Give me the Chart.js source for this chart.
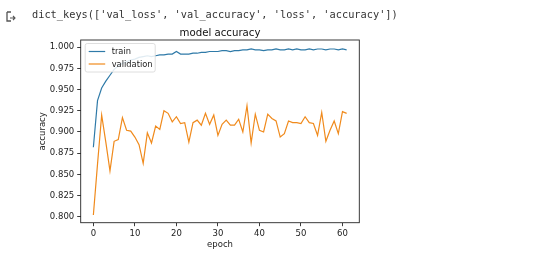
<!DOCTYPE html>
<html>
<head>
<meta charset="utf-8">
<script src="https://cdn.jsdelivr.net/npm/chart.js@4.4.1/dist/chart.umd.min.js"></script>
<style>
  body { margin: 0; background: #fff; }
  #wrap { position: relative; width: 540px; height: 258px; }
  #chart { position: absolute; left: 0; top: 0; }
  #out {
    position: absolute; left: 32px; top: 8px;
    font: 10.3px "DejaVu Sans Mono", monospace; color: #333; white-space: pre;
  }
  #icon { position: absolute; left: 6px; top: 11px; }
</style>
</head>
<body>
<div id="wrap">
  <canvas id="chart" width="540" height="258"></canvas>
  <svg id="icon" width="10" height="11" viewBox="0 0 10 11">
    <path d="M1 1 H5 M1 1 V10 H5" fill="none" stroke="#555" stroke-width="1.3"/>
    <path d="M4 7 H9 M7 5 L9 7 L7 9" fill="none" stroke="#555" stroke-width="1.1"/>
  </svg>
  <div id="out">dict_keys(['val_loss', 'val_accuracy', 'loss', 'accuracy'])</div>
</div>
<script>
// Training history (62 epochs)
const epochs = [0, 1, 2, 3, 4, 5, 6, 7, 8, 9, 10, 11, 12, 13, 14, 15, 16, 17, 18, 19, 20,
    21, 22, 23, 24, 25, 26, 27, 28, 29, 30, 31, 32, 33, 34, 35, 36, 37, 38, 39, 40,
    41, 42, 43, 44, 45, 46, 47, 48, 49, 50, 51, 52, 53, 54, 55, 56, 57, 58, 59, 60, 61];

const trainAcc = [0.882, 0.937, 0.952, 0.960, 0.967, 0.974, 0.978, 0.981, 0.983, 0.985,
    0.986, 0.988, 0.989, 0.990, 0.989, 0.990, 0.991, 0.991, 0.992, 0.992,
    0.995, 0.992, 0.992, 0.992, 0.993, 0.993, 0.994, 0.994, 0.995, 0.995,
    0.995, 0.996, 0.996, 0.995, 0.996, 0.996, 0.997, 0.997, 0.998, 0.997,
    0.997, 0.996, 0.997, 0.997, 0.998, 0.997, 0.997, 0.998, 0.997, 0.998,
    0.997, 0.997, 0.998, 0.997, 0.998, 0.998, 0.997, 0.998, 0.998, 0.997,
    0.998, 0.997];

const valAcc = [0.802, 0.862, 0.920, 0.888, 0.854, 0.889, 0.891, 0.917, 0.902, 0.901,
    0.894, 0.885, 0.863, 0.899, 0.887, 0.907, 0.903, 0.925, 0.922, 0.912,
    0.918, 0.910, 0.911, 0.888, 0.911, 0.914, 0.908, 0.922, 0.909, 0.920,
    0.896, 0.909, 0.914, 0.908, 0.908, 0.915, 0.900, 0.931, 0.887, 0.921,
    0.902, 0.900, 0.921, 0.916, 0.913, 0.894, 0.898, 0.913, 0.911, 0.911,
    0.910, 0.918, 0.911, 0.910, 0.896, 0.923, 0.889, 0.902, 0.913, 0.898,
    0.924, 0.922];

const xTicks = [0, 10, 20, 30, 40, 50, 60];
const yTicks = [0.800, 0.825, 0.850, 0.875, 0.900, 0.925, 0.950, 0.975, 1.000];

const TITLE = 'model accuracy';
const FONT = '"DejaVu Sans", sans-serif';
const AXIS_COLOR = '#262626';

function toPoints(ys) {
    return epochs.map((e, i) => ({ x: e, y: ys[i] }));
}

// frame, title and legend box drawn like matplotlib
const mplDecor = {
    id: 'mplDecor',
    afterDraw(chart) {
        const { ctx, chartArea: a } = chart;
        ctx.save();

        // axes frame (all 4 spines)
        ctx.strokeStyle = AXIS_COLOR;
        ctx.lineWidth = 0.9;
        ctx.strokeRect(a.left, a.top, a.right - a.left, a.bottom - a.top);

        // title
        ctx.fillStyle = '#111';
        ctx.font = '10.2px ' + FONT;
        ctx.textAlign = 'center';
        ctx.textBaseline = 'alphabetic';
        ctx.fillText(TITLE, (a.left + a.right) / 2, a.top - 4);

        // legend in upper left
        const bx = a.left + 4.5, by = a.top + 3.5, bw = 70, bh = 28.5;
        ctx.beginPath();
        ctx.roundRect(bx, by, bw, bh, 2);
        ctx.fillStyle = 'rgba(255,255,255,0.85)';
        ctx.fill();
        ctx.strokeStyle = '#d6d6d6';
        ctx.lineWidth = 0.8;
        ctx.stroke();

        ctx.font = '8.3px ' + FONT;
        ctx.textAlign = 'left';
        ctx.textBaseline = 'middle';
        chart.data.datasets.forEach((ds, i) => {
            const y = by + 8 + i * 12.5;
            ctx.strokeStyle = ds.borderColor;
            ctx.lineWidth = 1.2;
            ctx.beginPath();
            ctx.moveTo(bx + 3.5, y);
            ctx.lineTo(bx + 20, y);
            ctx.stroke();
            ctx.fillStyle = '#222';
            ctx.fillText(ds.label, bx + 26.5, y + 0.5);
        });
        ctx.restore();
    }
};

new Chart(document.getElementById('chart'), {
    type: 'line',
    data: {
        datasets: [
            {
                label: 'train',
                data: toPoints(trainAcc),
                borderColor: '#2f7aa8',
                borderWidth: 1.2,
                pointRadius: 0,
                tension: 0
            },
            {
                label: 'validation',
                data: toPoints(valAcc),
                borderColor: '#f08a1c',
                borderWidth: 1.2,
                pointRadius: 0,
                tension: 0
            }
        ]
    },
    options: {
        responsive: false,
        animation: false,
        layout: { padding: { left: 0, top: 40, right: 180.7, bottom: 0 } },
        scales: {
            x: {
                type: 'linear',
                min: -3.05,
                max: 64.05,
                afterFit: s => { s.height = 35.3; },
                afterBuildTicks: s => { s.ticks = xTicks.map(v => ({ value: v })); },
                grid: { drawOnChartArea: false, drawTicks: true, tickLength: 3.5, tickColor: AXIS_COLOR, tickWidth: 0.9 },
                border: { display: false },
                ticks: { color: '#222', font: { family: FONT, size: 8.5 }, padding: 2.5, maxRotation: 0 },
                title: { display: true, text: 'epoch', color: '#222', font: { family: FONT, size: 8.5 }, padding: { top: 0, bottom: 8.6 } }
            },
            y: {
                min: 0.7929,
                max: 1.0086,
                afterFit: s => { s.width = 80.7; },
                afterBuildTicks: s => { s.ticks = yTicks.map(v => ({ value: v })); },
                grid: { drawOnChartArea: false, drawTicks: true, tickLength: 3.5, tickColor: AXIS_COLOR, tickWidth: 0.9 },
                border: { display: false },
                ticks: { color: '#222', font: { family: FONT, size: 8.5 }, padding: 3, callback: v => v.toFixed(3) },
                title: { display: true, text: 'accuracy', color: '#222', font: { family: FONT, size: 8.5 }, padding: { top: 37.2, bottom: 0 } }
            }
        },
        plugins: {
            legend: { display: false },
            tooltip: { enabled: false }
        }
    },
    plugins: [mplDecor]
});
</script>
</body>
</html>
